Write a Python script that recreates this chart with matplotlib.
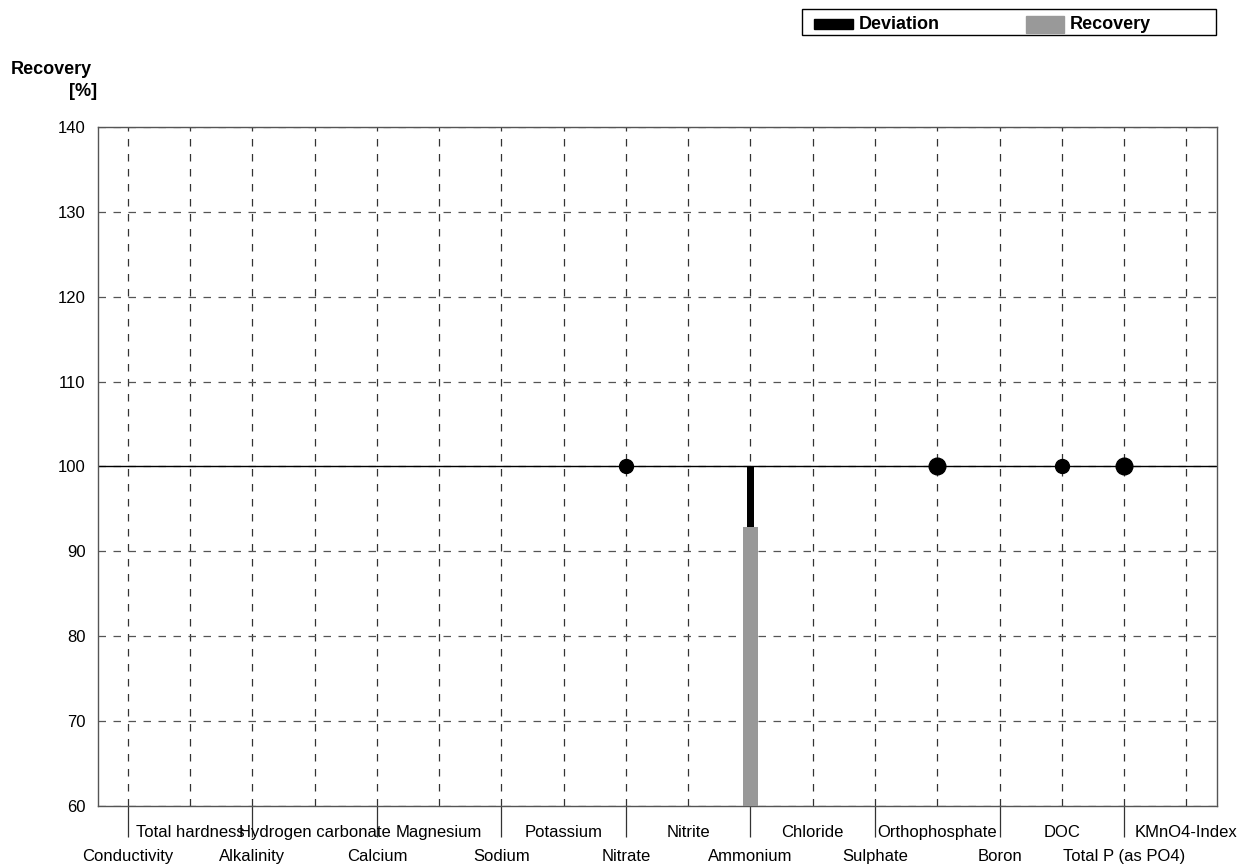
import matplotlib.pyplot as plt
from matplotlib.patches import Rectangle

plt.rcParams['font.family'] = ['Liberation Sans', 'DejaVu Sans']

# analytes along the x axis
params = ["Conductivity", "Total hardness", "Alkalinity", "Hydrogen carbonate",
          "Calcium", "Magnesium", "Sodium", "Potassium", "Nitrate", "Nitrite",
          "Ammonium", "Chloride", "Sulphate", "Orthophosphate", "Boron", "DOC",
          "Total P (as PO4)", "KMnO4-Index"]

# recovery points sitting on the target line
point_params = ["Nitrate", "Orthophosphate", "DOC", "Total P (as PO4)"]
point_values = [100, 100, 100, 100]

# recovery bar + deviation to target
bar_params = ["Ammonium"]
bar_values = [92.85]

target = 100
y_ticks = [60, 70, 80, 90, 100, 110, 120, 130, 140]

pos = {p: i for i, p in enumerate(params)}

fig = plt.figure(figsize=(12.49, 8.65), dpi=100)
ax = fig.add_axes([0.0785, 0.0682, 0.8962, 0.785])

# grid
ax.set_axisbelow(True)
ax.grid(axis='x', which='both', color='#333333', lw=0.9, ls=(0, (6, 6)))
ax.grid(axis='y', which='major', color='#555555', lw=0.9, ls=(0, (6, 6)))
ax.axhline(target, color='black', lw=1.0, zorder=2)

# bars
bx = [pos[p] for p in bar_params]
ax.bar(bx, [v - 60 for v in bar_values], bottom=60, width=0.256,
       color='#999999', zorder=3)
ax.bar(bx, [target - v for v in bar_values], bottom=bar_values, width=0.107,
       color='black', zorder=3)

# points
marker_sizes = [10, 12, 10, 12]
for p, v, ms in zip(point_params, point_values, marker_sizes):
    ax.plot(pos[p], v, 'o', color='black', ms=ms, zorder=4)

ax.set_xlim(-0.48, 17.5)
ax.set_ylim(60, 140)
ax.set_yticks(y_ticks)
ax.tick_params(axis='y', length=0, pad=9, labelsize=12)

even = list(range(0, len(params), 2))
odd = list(range(1, len(params), 2))
ax.set_xticks(even, labels=[params[i] for i in even])
ax.set_xticks(odd, labels=[params[i] for i in odd], minor=True)
ax.tick_params(axis='x', which='major', length=22, width=0.9, color='#333333',
               pad=9, labelsize=12)
ax.tick_params(axis='x', which='minor', length=0, pad=14, labelsize=12)

for s in ax.spines.values():
    s.set_color('#555555')
    s.set_linewidth(1.0)

# y label
fig.text(92 / 1249, 1 - 70 / 865, "Recovery", ha='right', va='center',
         fontsize=13, fontweight='bold')
fig.text(97 / 1249, 1 - 91 / 865, "[%]", ha='right', va='center',
         fontsize=13, fontweight='bold')

# legend box
W, H = 1249, 865
fig.patches.append(Rectangle((802 / W, 1 - 35 / H), 414 / W, 26 / H,
                             transform=fig.transFigure, fill=False,
                             edgecolor='black', lw=1.0))
fig.patches.append(Rectangle((814 / W, 1 - 29 / H), 39 / W, 10 / H,
                             transform=fig.transFigure, color='black'))
fig.patches.append(Rectangle((1026 / W, 1 - 33 / H), 38 / W, 17 / H,
                             transform=fig.transFigure, color='#999999'))
fig.text(859 / W, 1 - 24.5 / H, "Deviation", ha='left', va='center',
         fontsize=13, fontweight='bold')
fig.text(1070 / W, 1 - 24.5 / H, "Recovery", ha='left', va='center',
         fontsize=13, fontweight='bold')

fig.savefig("out.png", dpi=100)
